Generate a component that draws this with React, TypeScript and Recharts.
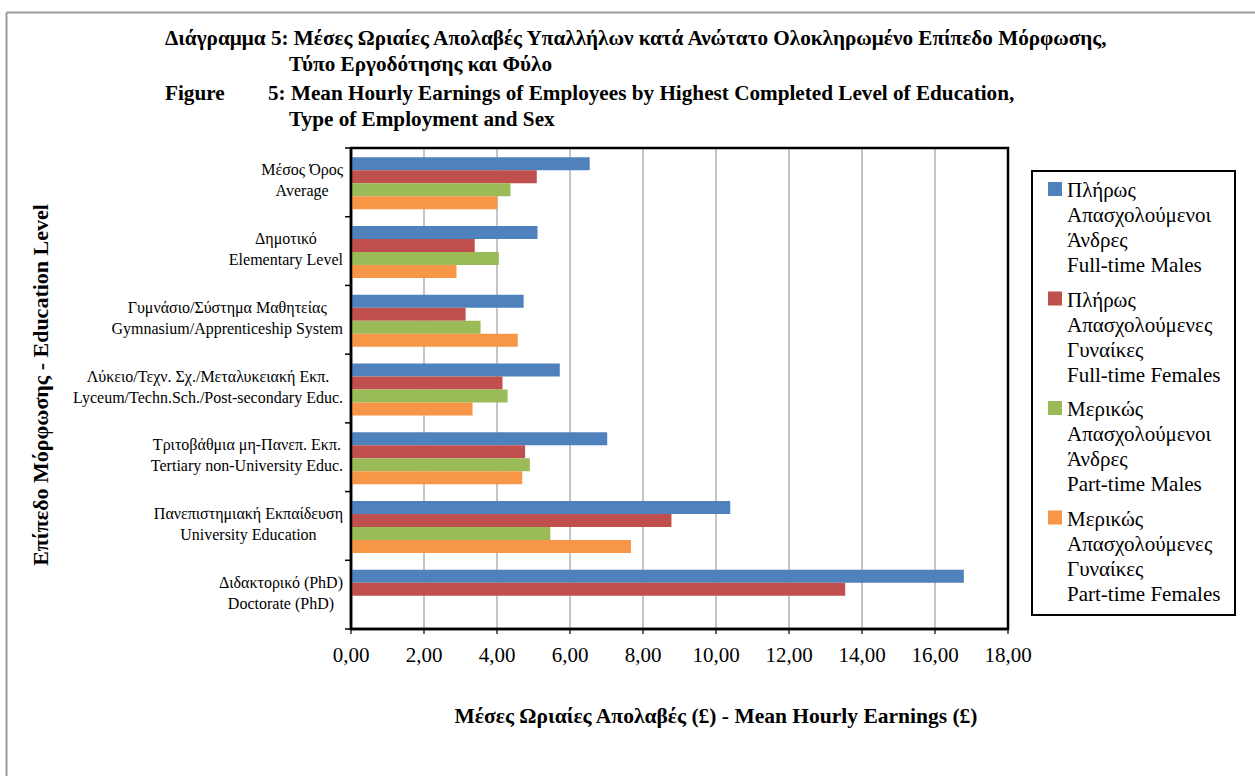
import React from 'react';
import { BarChart, Bar, XAxis, YAxis, CartesianGrid, ReferenceArea } from 'recharts';

// ---------- data ----------
const categoriesGreek = [
  'Μέσος Όρος',
  'Δημοτικό',
  'Γυμνάσιο/Σύστημα Μαθητείας',
  'Λύκειο/Τεχν. Σχ./Μεταλυκειακή Εκπ.',
  'Τριτοβάθμια μη-Πανεπ. Εκπ.',
  'Πανεπιστημιακή Εκπαίδευση',
  'Διδακτορικό (PhD)',
];
const categoriesEnglish = [
  'Average',
  'Elementary Level',
  'Gymnasium/Apprenticeship System',
  'Lyceum/Techn.Sch./Post-secondary Educ.',
  'Tertiary non-University Educ.',
  'University Education',
  'Doctorate (PhD)',
];
const fullTimeMales = [6.54, 5.11, 4.73, 5.72, 7.02, 10.39, 16.79];
const fullTimeFemales = [5.09, 3.39, 3.14, 4.15, 4.77, 8.78, 13.54];
const partTimeMales = [4.37, 4.05, 3.55, 4.29, 4.9, 5.46, null];
const partTimeFemales = [4.01, 2.89, 4.57, 3.33, 4.69, 7.67, null];
const xTicks = [0, 2, 4, 6, 8, 10, 12, 14, 16, 18];

const seriesNames = [
  ['Πλήρως', 'Απασχολούμενοι', 'Άνδρες', 'Full-time Males'],
  ['Πλήρως', 'Απασχολούμενες', 'Γυναίκες', 'Full-time Females'],
  ['Μερικώς', 'Απασχολούμενοι', 'Άνδρες', 'Part-time Males'],
  ['Μερικώς', 'Απασχολούμενες', 'Γυναίκες', 'Part-time Females'],
];
const seriesKeys = ['ftm', 'ftf', 'ptm', 'ptf'];
const seriesColors = ['#4F81BD', '#C0504D', '#9BBB59', '#F79646'];

const titleLines = {
  gr1: 'Διάγραμμα 5: Μέσες Ωριαίες Απολαβές Υπαλλήλων κατά  Ανώτατο Ολοκληρωμένο Επίπεδο Μόρφωσης,',
  gr2: 'Τύπο Εργοδότησης και Φύλο',
  en1a: 'Figure',
  en1b: '5: Mean Hourly Earnings of Employees by  Highest Completed Level of Education,',
  en2: 'Type of Employment and Sex',
};
const xTitle = 'Μέσες Ωριαίες Απολαβές (£) - Mean Hourly Earnings (£)';
const yTitle = 'Επίπεδο Μόρφωσης - Education Level';

const rows = categoriesEnglish.map((c, i) => ({
  key: c,
  ftm: fullTimeMales[i],
  ftf: fullTimeFemales[i],
  ptm: partTimeMales[i],
  ptf: partTimeFemales[i],
}));

// ---------- layout ----------
const W = 1255;
const H = 776;
const PLOT_LEFT = 351;
const PLOT_RIGHT = 1008;
const PLOT_TOP = 148;
const PLOT_BOTTOM = 629;
const Y_AXIS_W = 200;
const X_AXIS_H = 40;
const FONT = "'Liberation Serif', 'Times New Roman', serif";
const BAND = (PLOT_BOTTOM - PLOT_TOP) / categoriesEnglish.length;

let ctx: CanvasRenderingContext2D | null = null;
function measure(text: string, font: string): number {
  if (!ctx) {
    const c = document.createElement('canvas');
    ctx = c.getContext('2d');
  }
  if (!ctx) return text.length * 7;
  ctx.font = font;
  return ctx.measureText(text).width;
}

const YTick = (props: any) => {
  const { x, y, payload } = props;
  const i = categoriesEnglish.indexOf(payload.value);
  const l1 = categoriesGreek[i];
  const l2 = categoriesEnglish[i];
  const f = `16px ${FONT}`;
  const w = Math.max(measure(l1, f), measure(l2, f));
  const cx = x - w / 2;
  const last = i === categoriesEnglish.length - 1;
  return (
    <g>
      <text x={cx} y={y - 7} textAnchor="middle" fontSize={16} fontFamily={FONT} fill="#000">
        {l1}
      </text>
      <text x={cx} y={y + 14} textAnchor="middle" fontSize={16} fontFamily={FONT} fill="#000">
        {l2}
      </text>
      <line x1={PLOT_LEFT - 6} x2={PLOT_LEFT} y1={y - BAND / 2} y2={y - BAND / 2} stroke="#000" strokeWidth={1.5} />
      {last && (
        <line x1={PLOT_LEFT - 6} x2={PLOT_LEFT} y1={y + BAND / 2} y2={y + BAND / 2} stroke="#000" strokeWidth={1.5} />
      )}
    </g>
  );
};

const fmt = (v: number) => v.toFixed(2).replace('.', ',');

export default function App() {
  const legX = 1032;
  const legY = 171;
  const legW = 203;
  const legH = 444;
  const lineH = 25;
  const itemH = 109.5;
  const tSize = 21.2;
  return (
    <div style={{ position: 'absolute', left: 0, top: 0, width: W, height: H, background: '#fff', overflow: 'hidden' }}>
      <BarChart
        width={W}
        height={H}
        data={rows}
        layout="vertical"
        margin={{ top: PLOT_TOP, right: W - PLOT_RIGHT, bottom: H - PLOT_BOTTOM - X_AXIS_H, left: PLOT_LEFT - Y_AXIS_W }}
        barCategoryGap="13.6%"
        barGap={0}
      >
        <CartesianGrid horizontal={false} stroke="#8a8a8a" strokeWidth={1} />
        <XAxis
          type="number"
          domain={[0, 18]}
          ticks={xTicks}
          interval={0}
          tickFormatter={fmt}
          height={X_AXIS_H}
          axisLine={{ stroke: '#000', strokeWidth: 2.5 }}
          tickLine={{ stroke: '#000', strokeWidth: 1.2 }}
          tickSize={5}
          tickMargin={13}
          tick={{ fontSize: 21, fontFamily: FONT, fill: '#000' }}
        />
        <YAxis
          type="category"
          dataKey="key"
          width={Y_AXIS_W}
          axisLine={{ stroke: '#000', strokeWidth: 2.5 }}
          tickLine={false}
          tickSize={0}
          tickMargin={8}
          interval={0}
          tick={<YTick />}
        />
        {seriesKeys.map((k, i) => (
          <Bar key={k} dataKey={k} fill={seriesColors[i]} isAnimationActive={false} />
        ))}
        <ReferenceArea x1={0} x2={18} fill="none" fillOpacity={0} stroke="#000" strokeWidth={2.5} ifOverflow="visible" />
      </BarChart>
      <svg
        width={W}
        height={H}
        style={{ position: 'absolute', left: 0, top: 0, pointerEvents: 'none', whiteSpace: 'pre' }}
      >
        {/* outer frame */}
        <line x1={6.5} y1={12.5} x2={W} y2={12.5} stroke="#999" strokeWidth={2} />
        <line x1={6.5} y1={12.5} x2={6.5} y2={H} stroke="#999" strokeWidth={2} />
        {/* titles */}
        <g fontFamily={FONT} fontWeight="bold" fontSize={tSize} fill="#000">
          <text x={165} y={45}>{titleLines.gr1}</text>
          <text x={289} y={71}>{titleLines.gr2}</text>
          <text x={165} y={100}>{titleLines.en1a}</text>
          <text x={268} y={100}>{titleLines.en1b}</text>
          <text x={289} y={126}>{titleLines.en2}</text>
        </g>
        <text x={716} y={723} textAnchor="middle" fontFamily={FONT} fontWeight="bold" fontSize={21.5} fill="#000">
          {xTitle}
        </text>
        <text
          x={0}
          y={0}
          transform="translate(48,385) rotate(-90)"
          textAnchor="middle"
          fontFamily={FONT}
          fontWeight="bold"
          fontSize={22}
          fill="#000"
        >
          {yTitle}
        </text>
        {/* legend */}
        <rect x={legX} y={legY} width={legW} height={legH} fill="#fff" stroke="#000" strokeWidth={2} />
        {seriesNames.map((lines, i) => {
          const base = legY + 26 + i * itemH;
          return (
            <g key={i}>
              <rect x={legX + 16} y={base - 15} width={14} height={14} fill={seriesColors[i]} />
              {lines.map((t, j) => (
                <text key={j} x={legX + 35} y={base + j * lineH} fontFamily={FONT} fontSize={21} fill="#000">
                  {t}
                </text>
              ))}
            </g>
          );
        })}
      </svg>
    </div>
  );
}
